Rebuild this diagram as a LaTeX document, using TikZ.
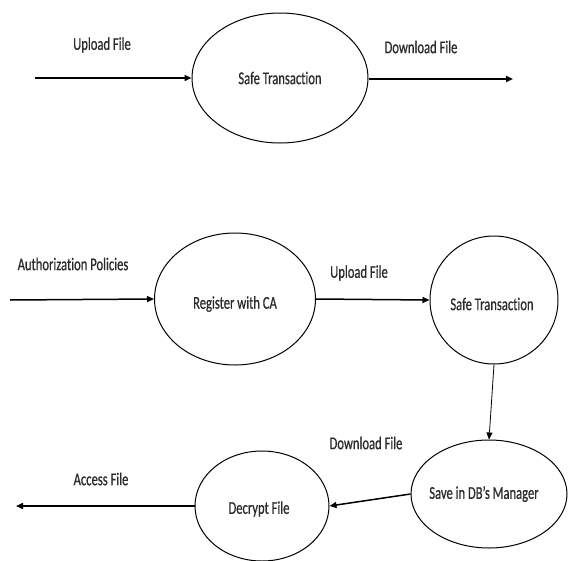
\documentclass[tikz,border=0pt]{standalone}
\usepackage{fontspec}
\newfontfamily\lbl[FakeStretch=0.70,FakeBold=0.6,Ligatures=NoCommon]{Carlito}
\usetikzlibrary{shapes.geometric,arrows.meta}
\definecolor{txt}{HTML}{2A2A2A}
\begin{document}
\begin{tikzpicture}[x=1pt,y=-1pt,
  proc/.style={ellipse,draw,line width=1pt,inner sep=0pt},
  lab/.style={font=\lbl\fontsize{18}{20}\selectfont,text=txt,inner sep=0pt},
  flow/.style={line width=1.5pt,-{Triangle[length=7pt,width=6pt]}},
  thin flow/.style={line width=0.8pt,-{Triangle[length=7pt,width=6pt]}}]
\useasboundingbox (0,0) rectangle (568,560);
% top diagram
\node[proc,minimum width=176pt,minimum height=130pt] (top) at (280,78) {};
\node[lab] (topt) at (280,78) {Safe Transaction};
\coordinate (in1) at (35,78);
\coordinate (out1) at (513,79);
\draw[flow,line width=1.8pt] (in1) -- (top.west);
\draw[flow,line width=1.8pt] (top.east |- out1) -- (out1);
\node[lab] (l1) at (102,45) {Upload File};
\node[lab] (l2) at (421,47) {Download File};
% bottom diagram
\node[proc,minimum width=161pt,minimum height=132pt] (reg) at (235,299) {};
\node[lab] (regt) at (235,304) {Register with CA};
\node[proc,minimum width=128pt,minimum height=128pt] (safe) at (494,300) {};
\node[lab] (safet) at (492,304) {Safe Transaction};
\node[proc,minimum width=156pt,minimum height=108pt] (save) at (489,494) {};
\node[lab] (savet) at (484,494) {Save in DB’s Manager};
\node[proc,minimum width=134pt,minimum height=110pt] (dec) at (262,506) {};
\node[lab] (dect) at (259,509) {Decrypt File};
\coordinate (in2) at (10,300);
\coordinate (out2) at (16,506);
\draw[flow] (in2) -- (reg.west);
\draw[flow] (reg.east) -- (safe.west);
\draw[thin flow] (safe.south) -- (save.north);
\draw[flow] (save.west) -- (dec.east);
\draw[flow] (dec.west) -- (out2);
\node[lab] (l3) at (73,264) {Authorization Policies};
\node[lab] (l4) at (359,273) {Upload File};
\node[lab] (l5) at (366,443) {Download File};
\node[lab] (l6) at (101,479) {Access File};
\end{tikzpicture}
\end{document}
